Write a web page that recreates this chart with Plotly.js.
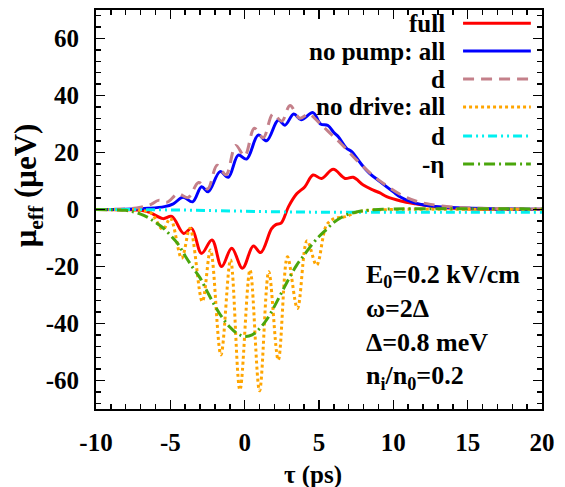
<!DOCTYPE html>
<html>
<head>
<meta charset="utf-8">
<script src="https://cdn.plot.ly/plotly-3.0.1.min.js"></script>
<style>
  html, body { margin: 0; padding: 0; background: #ffffff; }
  #chart { width: 565px; height: 487px; }
</style>
</head>
<body>
<div id="chart"></div>
<script>
// Effective coupling mu_eff versus delay tau (ps)

// full
const tFull = [-10, -8, -7, -6.4, -5.5, -4.9, -4.1, -3.57, -2.9, -2.2, -1.55, -0.87, -0.15, 0.58, 1.08, 1.8, 2.1, 2.45, 2.95, 3.5, 4.05, 4.6, 5.17, 5.96, 6.75, 7.3, 7.98, 8.65, 9.1, 9.55, 10.5, 11.5, 13, 14.7, 17, 20];
const muFull = [0, -0.1, -0.3, -1.0, -3.2, -2.4, -8.4, -6.6, -15.4, -10.7, -20, -13.6, -20.6, -12.8, -15.1, -6.8, -5.3, -4.8, 1, 5.5, 8, 12.1, 10.9, 14.1, 10.9, 11.3, 8.6, 6.8, 5.8, 4.5, 3.0, 2.0, 0.8, 0.3, 0.1, 0];

// no pump: all
const tPumpAll = [-10, -8, -6.5, -5.4, -4.8, -4.15, -3.5, -2.9, -2.45, -1.66, -1.1, -0.43, 0.13, 0.91, 1.48, 2.26, 2.71, 3.3, 3.8, 4.6, 5.1, 5.6, 6.0, 6.3, 6.85, 7.2, 7.8, 8.4, 9.1, 10, 10.5, 11.3, 12.4, 13.5, 15.3, 17, 20];
const muPumpAll = [0, 0.1, 0.4, 1.0, 2.0, 4.3, 2.7, 8.0, 6.2, 13.3, 11.3, 19.1, 17.7, 26.1, 24.1, 31.4, 29.6, 33.5, 31.5, 34.0, 30.0, 29.5, 27.0, 25.5, 21.5, 20.3, 16.2, 12.7, 9.8, 6.2, 4.3, 2.5, 1.3, 0.8, 0.4, 0.2, 0.1];

// no pump: d
const tPumpD = [-10, -8, -7, -6.3, -5.8, -5.2, -4.5, -3.8, -3.1, -2.5, -1.85, -1.25, -0.6, 0.0, 0.65, 1.25, 1.9, 2.5, 3.05, 3.7, 4.3, 4.9, 5.6, 6.5, 7.5, 8.5, 9.5, 10.5, 11.5, 12.5, 14, 16, 20];
const muPumpD = [0, 0.2, 0.8, 1.8, 3.2, 2.6, 5.5, 4.2, 9.5, 7.2, 15.5, 12.2, 22.5, 18.8, 28.5, 25.2, 33.5, 31.0, 36.5, 32.0, 33.5, 31.0, 27.5, 23.0, 17.5, 12.5, 8.5, 5.2, 3.0, 1.8, 0.9, 0.4, 0.2];

// no drive: all
const tDriveAll = [-10, -8, -7, -6.3, -5.5, -5.0, -4.24, -3.68, -2.85, -2.3, -1.6, -0.95, -0.32, 0.36, 1.0, 1.62, 2.26, 2.88, 3.55, 4.2, 4.84, 5.5, 6.0, 6.4, 6.8, 7.5, 8.5, 10, 20];
const muDriveAll = [0, -0.1, -0.3, -1.2, -7.0, -3.1, -17.1, -6.6, -32.3, -14.2, -51, -17.7, -63.3, -21.2, -63.6, -21.8, -52.8, -16.6, -34.7, -11, -19.5, -5.5, -3.2, -2.8, -2.5, -1.0, -0.3, 0, 0];

// no drive: d
const tDriveD = [-10, -8, -6, -4, -2, 0, 2, 4, 6, 8, 10, 14, 20];
const muDriveD = [0, 0, -0.1, -0.2, -0.4, -0.6, -0.8, -0.9, -1.0, -1.0, -1.0, -1.0, -1.0];

// -eta
const tEta = [-10, -9, -8, -7.5, -7, -6.5, -6, -5.5, -5, -4.5, -4, -3.5, -3, -2.5, -2, -1.5, -1, -0.5, 0, 0.5, 1, 1.5, 2, 2.5, 3, 3.5, 4, 4.5, 5, 5.5, 6, 6.5, 7, 7.5, 8, 9, 10, 20];
const muEta = [0, -0.1, -0.3, -0.8, -1.6, -2.8, -4.5, -6.4, -9.0, -12.0, -16.3, -20.3, -24.0, -29.0, -33.8, -38.0, -41.2, -43.5, -44.5, -44.0, -41.8, -38.5, -34.0, -29.0, -24.0, -19.5, -16.0, -12.5, -9.5, -7.0, -4.5, -2.8, -1.6, -0.9, -0.4, 0, 0.2, 0.2];

const legendLabels = ['full', 'no pump: all', 'd', 'no drive: all', 'd', '-\u03B7'];

const xTickVals = [-10, -5, 0, 5, 10, 15, 20];
const xTickText = ['-10', '-5', '0', '5', '10', '15', '20'];
const yTickVals = [-60, -40, -20, 0, 20, 40, 60];
const yTickText = ['-60', '-40', '-20', '0', '20', '40', '60'];

const FONT = '"Liberation Serif"';

const styles = [
  { color: '#ff0000', dash: 'solid' },
  { color: '#0000ff', dash: 'solid' },
  { color: '#c4808a', dash: '11px,7px' },
  { color: '#ffa500', dash: '3px,3px' },
  { color: '#00f0f0', dash: '9px,4px,2px,4px,2px,4px' },
  { color: '#4aa60c', dash: '11px,4px,2px,4px' }
];

const series = [
  [tFull, muFull],
  [tPumpAll, muPumpAll],
  [tPumpD, muPumpD],
  [tDriveAll, muDriveAll],
  [tDriveD, muDriveD],
  [tEta, muEta]
];

const traces = series.map(function (s, i) {
  return {
    x: s[0], y: s[1],
    type: 'scatter', mode: 'lines',
    name: legendLabels[i],
    showlegend: false,
    line: { color: styles[i].color, width: 3, dash: styles[i].dash, shape: 'spline', smoothing: 1 }
  };
});

function boldFont(size) {
  return { family: FONT, size: size, color: '#000', weight: 'bold' };
}

// Hand-built key: right-aligned labels with line samples on their right
const keyY = [0.967, 0.897, 0.827, 0.757, 0.684, 0.614];
const annotations = [];
const shapes = [];
legendLabels.forEach(function (lab, i) {
  annotations.push({
    xref: 'paper', yref: 'paper', x: 0.787, y: keyY[i],
    xanchor: 'right', yanchor: 'middle', showarrow: false,
    text: lab, font: boldFont(25)
  });
  shapes.push({
    type: 'line', xref: 'paper', yref: 'paper',
    x0: 0.823, x1: 0.975, y0: keyY[i], y1: keyY[i],
    line: { color: styles[i].color, width: 3, dash: styles[i].dash }
  });
});

// Parameter block
const paramLines = ['E<sub>0</sub>=0.2 kV/cm', '\u03C9=2\u0394', '\u0394=0.8 meV', 'n<sub>i</sub>/n<sub>0</sub>=0.2'];
annotations.push({
  xref: 'paper', yref: 'paper', x: 0.600, y: 0.2055,
  xanchor: 'left', yanchor: 'middle', align: 'left', showarrow: false,
  text: paramLines.join('<br>'), font: boldFont(26)
});

// Axis titles
annotations.push({
  xref: 'paper', yref: 'paper', x: -0.152, y: 0.561,
  xanchor: 'center', yanchor: 'middle', textangle: -90, showarrow: false,
  text: '\u03BC<sub>eff</sub> (\u03BCeV)', font: boldFont(31)
});
annotations.push({
  xref: 'paper', yref: 'paper', x: 0.4865, y: -0.165,
  xanchor: 'center', yanchor: 'middle', showarrow: false,
  text: '\u03C4 (ps)', font: boldFont(25)
});

const axisCommon = {
  showgrid: false, zeroline: false,
  showline: true, linecolor: '#000', linewidth: 2, mirror: 'allticks',
  ticks: 'inside', ticklen: 9, tickwidth: 1.5, tickcolor: '#000',
  tickfont: boldFont(25),
  ticklabelstandoff: 10
};

const layout = {
  width: 565, height: 487,
  margin: { l: 96, r: 23, t: 10, b: 78 },
  paper_bgcolor: '#ffffff', plot_bgcolor: '#ffffff',
  showlegend: false,
  font: boldFont(25),
  xaxis: Object.assign({}, axisCommon, {
    range: [-10, 20], tickmode: 'array', tickvals: xTickVals, ticktext: xTickText,
    minor: { tickmode: 'linear', tick0: 0, dtick: 1, ticks: 'inside', ticklen: 5, tickwidth: 1.5, tickcolor: '#000' }
  }),
  yaxis: Object.assign({}, axisCommon, {
    range: [-70, 70], tickmode: 'array', tickvals: yTickVals, ticktext: yTickText,
    minor: { tickmode: 'linear', tick0: 0, dtick: 4, ticks: 'inside', ticklen: 5, tickwidth: 1.5, tickcolor: '#000' }
  }),
  annotations: annotations,
  shapes: shapes
};

Plotly.newPlot('chart', traces, layout, { staticPlot: true, displayModeBar: false });
</script>
</body>
</html>
